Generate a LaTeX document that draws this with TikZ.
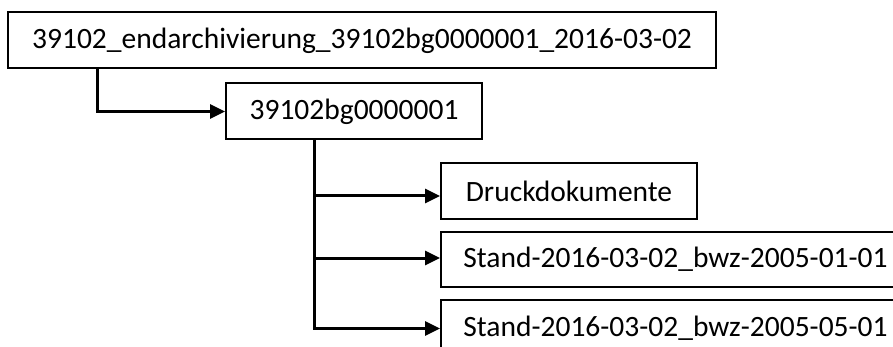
\documentclass[tikz,border=0pt]{standalone}
\usepackage{fontspec}
\setmainfont{Carlito}
\usetikzlibrary{arrows.meta}

\tikzset{
    folder/.style={draw, line width=2pt, minimum height=56pt, inner sep=0pt,
        font=\fontsize{29.5}{35}\selectfont},
    link/.style={line width=3pt, -{Triangle[length=15pt, width=14pt]}}
}

\begin{document}
\begin{tikzpicture}[x=1pt, y=-1pt]
    \useasboundingbox (0,0) rectangle (893,347);
    \clip (0,0) rectangle (893,347);
    % Folders
    \node[folder, minimum width=708pt] (root) at (362,40.5) {39102\_endarchivierung\_39102bg0000001\_2016-03-02};
    \node[folder, minimum width=256pt] (bg) at (354,111.5) {39102bg0000001};
    \node[folder, minimum width=256pt] (druck) at (569,191) {Druckdokumente};
    \node[folder, minimum width=469pt, minimum height=55pt] (standa) at (675.5,259.5) {Stand-2016-03-02\_bwz-2005-01-01};
    \node[folder, minimum width=469pt, minimum height=57pt] (standb) at (675.5,328.5) {Stand-2016-03-02\_bwz-2005-05-01};
    % Connectors
    \draw[link] ([xshift=90pt]root.south west) |- (bg.west);
    \draw[link] ([xshift=89pt]bg.south west) |- ([yshift=-5pt]druck.west);
    \draw[link] ([xshift=89pt]bg.south west) |- ([yshift=1.5pt]standa.west);
    \draw[link] ([xshift=89pt]bg.south west) |- (standb.west);
\end{tikzpicture}
\end{document}
